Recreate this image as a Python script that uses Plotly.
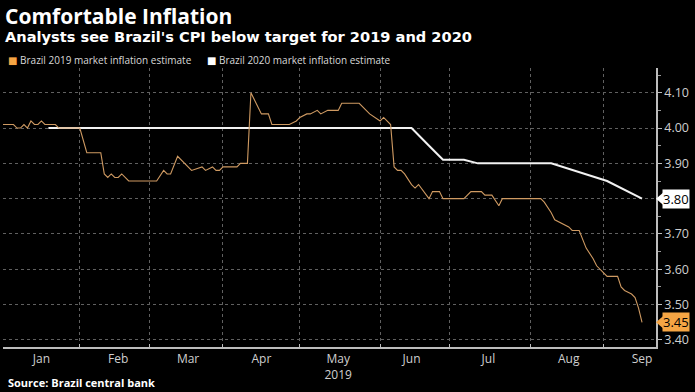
import plotly.graph_objects as go

# ---- data ----
dates_2019 = [
    "2019-01-02", "2019-01-07", "2019-01-08", "2019-01-09", "2019-01-10", "2019-01-11",
    "2019-01-14", "2019-01-15", "2019-01-16", "2019-01-17", "2019-01-18", "2019-01-23",
    "2019-01-24", "2019-02-01", "2019-02-05", "2019-02-11", "2019-02-12", "2019-02-13",
    "2019-02-14", "2019-02-15", "2019-02-18", "2019-02-19", "2019-02-21", "2019-03-05",
    "2019-03-07", "2019-03-08", "2019-03-11", "2019-03-13", "2019-03-19", "2019-03-22",
    "2019-03-25", "2019-03-27", "2019-03-28", "2019-03-29", "2019-04-01", "2019-04-05",
    "2019-04-08", "2019-04-10", "2019-04-11", "2019-04-16", "2019-04-18", "2019-04-19",
    "2019-04-26", "2019-04-30", "2019-05-01", "2019-05-03", "2019-05-06", "2019-05-08",
    "2019-05-09", "2019-05-13", "2019-05-16", "2019-05-17", "2019-05-24", "2019-05-28",
    "2019-05-29", "2019-06-03", "2019-06-04", "2019-06-06", "2019-06-07", "2019-06-10",
    "2019-06-11", "2019-06-12", "2019-06-14", "2019-06-17", "2019-06-18", "2019-06-21",
    "2019-06-24", "2019-06-26", "2019-06-27", "2019-07-05", "2019-07-08", "2019-07-09",
    "2019-07-12", "2019-07-15", "2019-07-17", "2019-07-19", "2019-07-22", "2019-08-06",
    "2019-08-07", "2019-08-09", "2019-08-12", "2019-08-14", "2019-08-16", "2019-08-19",
    "2019-08-21", "2019-08-23", "2019-08-27", "2019-08-28", "2019-08-29", "2019-09-02",
    "2019-09-05", "2019-09-06", "2019-09-09", "2019-09-11", "2019-09-12", "2019-09-13",
    "2019-09-16",
]
values_2019 = [
    4.01, 4.01, 4.00, 4.00, 4.01, 4.00,
    4.02, 4.01, 4.01, 4.02, 4.01, 4.01,
    4.00, 4.00, 3.93, 3.93, 3.87, 3.86,
    3.87, 3.86, 3.86, 3.87, 3.85, 3.85,
    3.88, 3.87, 3.87, 3.92, 3.88, 3.89,
    3.88, 3.89, 3.88, 3.88, 3.89, 3.89,
    3.90, 3.90, 4.10, 4.04, 4.04, 4.01,
    4.01, 4.02, 4.03, 4.04, 4.04, 4.05,
    4.04, 4.05, 4.05, 4.07, 4.07, 4.05,
    4.04, 4.02, 4.03, 4.01, 3.89, 3.88,
    3.88, 3.87, 3.84, 3.83, 3.84, 3.80,
    3.82, 3.82, 3.80, 3.80, 3.81, 3.82,
    3.82, 3.81, 3.81, 3.78, 3.80, 3.80,
    3.79, 3.76, 3.74, 3.73, 3.72, 3.71,
    3.71, 3.66, 3.63, 3.61, 3.60, 3.58,
    3.58, 3.55, 3.54, 3.53, 3.52, 3.49,
    3.45,
]

dates_2020 = ["2019-01-21", "2019-06-14", "2019-06-21", "2019-06-27", "2019-07-05",
              "2019-07-11", "2019-08-09", "2019-09-02", "2019-09-16"]
values_2020 = [4.00, 4.00, 3.95, 3.91, 3.91, 3.90, 3.90, 3.85, 3.80]

series_names = ["Brazil 2019 market inflation estimate",
                "Brazil 2020 market inflation estimate"]
y_ticks = [3.40, 3.50, 3.60, 3.70, 3.80, 3.90, 4.00, 4.10]
month_label_dates = ["2019-01-17", "2019-02-18", "2019-03-18", "2019-04-16", "2019-05-16",
                     "2019-06-14", "2019-07-16", "2019-08-16", "2019-09-16"]
month_labels = ["Jan", "Feb", "Mar", "Apr", "May<br>2019", "Jun", "Jul", "Aug", "Sep"]

title_text = "Comfortable Inflation"
subtitle_text = "Analysts see Brazil's CPI below target for 2019 and 2020"
source_text = "Source: Brazil central bank"

# ---- styling ----
ORANGE = "#cf9a62"
ORANGE_TAG = "#f5a544"
WHITE = "#f2f2f2"
GRID = "#606060"
TICKC = "#cfcfcf"
FONT = "Open Sans, DejaVu Sans, sans-serif"
FONT_WIDE = "DejaVu Sans, sans-serif"

W, H = 695, 392
M_L, M_R, M_T, M_B = 3, 39, 68, 45
PW = W - M_L - M_R
PH = H - M_T - M_B
Y_RANGE = [3.38, 4.17]


def px_x(px):
    return (px - M_L) / PW


def px_y(py):
    return (H - M_B - py) / PH


fig = go.Figure()
fig.add_trace(go.Scatter(x=dates_2020, y=values_2020, mode="lines",
                         line=dict(color=WHITE, width=2), name=series_names[1],
                         showlegend=False, hoverinfo="skip"))
fig.add_trace(go.Scatter(x=dates_2019, y=values_2019, mode="lines",
                         line=dict(color=ORANGE, width=1.1), name=series_names[0],
                         showlegend=False, hoverinfo="skip"))

annotations = [
    dict(text="<b>" + title_text + "</b>", x=px_x(3), y=px_y(16), xref="paper", yref="paper",
         xanchor="left", yanchor="middle", showarrow=False,
         font=dict(family=FONT, size=21, color="white")),
    dict(text="<b>" + subtitle_text + "</b>", x=px_x(3), y=px_y(37), xref="paper", yref="paper",
         xanchor="left", yanchor="middle", showarrow=False,
         font=dict(family=FONT_WIDE, size=14.6, color="white")),
    dict(text='<span style="color:%s">■</span> %s      <span style="color:#ffffff">■</span> %s'
         % (ORANGE_TAG, series_names[0], series_names[1]),
         x=px_x(6), y=px_y(60), xref="paper", yref="paper",
         xanchor="left", yanchor="middle", showarrow=False,
         font=dict(family=FONT, size=10, color="#d8d8d8")),
    dict(text="<b>" + source_text + "</b>", x=px_x(6), y=px_y(383), xref="paper", yref="paper",
         xanchor="left", yanchor="middle", showarrow=False,
         font=dict(family=FONT, size=11, color="white")),
]

shapes = []
# last value tags
for vals, bg in ((values_2020, "white"), (values_2019, ORANGE_TAG)):
    last = vals[-1]
    annotations.append(dict(text="%.2f" % last, x=1, y=last, xref="paper", yref="y",
                            xanchor="left", yanchor="middle", xshift=6, showarrow=False,
                            bgcolor=bg, borderpad=0,
                            font=dict(family=FONT, size=13, color="black")))
    half = 6 * (Y_RANGE[1] - Y_RANGE[0]) / PH
    dx = 7 / PW
    shapes.append(dict(type="path", xref="paper", yref="y",
                       path="M 1 %f L %f %f L %f %f Z" % (last, 1 + dx, last + half, 1 + dx, last - half),
                       fillcolor=bg, line=dict(width=0)))

fig.update_layout(
    width=W, height=H,
    margin=dict(l=M_L, r=M_R, t=M_T, b=M_B),
    paper_bgcolor="black", plot_bgcolor="black",
    showlegend=False,
    annotations=annotations,
    shapes=shapes,
    xaxis=dict(
        type="date",
        range=["2019-01-02", "2019-09-20"],
        rangebreaks=[dict(bounds=["sat", "mon"])],
        tickvals=month_label_dates, ticktext=month_labels,
        showgrid=False, ticks="",
        minor=dict(tick0="2019-01-01", dtick="M1", showgrid=True, gridcolor=GRID,
                   griddash="dot", gridwidth=1, ticks="inside", ticklen=3, tickcolor="#bdbdbd"),
        showline=True, linecolor="#bdbdbd", linewidth=1.5,
        tickfont=dict(family=FONT, size=12, color=TICKC),
        zeroline=False, fixedrange=True,
    ),
    yaxis=dict(
        side="right",
        range=Y_RANGE,
        tickvals=y_ticks, tickformat=".2f",
        showgrid=True, gridcolor=GRID, griddash="dot", gridwidth=1,
        showline=True, linecolor="#bdbdbd", linewidth=1.5,
        ticks="outside", ticklen=4, tickcolor="#bdbdbd",
        minor=dict(dtick=0.05, tick0=3.35, ticks="outside", ticklen=3, tickcolor="#9a9a9a", showgrid=False),
        tickfont=dict(family=FONT, size=12.5, color=TICKC),
        zeroline=False, fixedrange=True,
    ),
)

fig.write_html("out.html", config={"displayModeBar": False},
               post_script="document.body.style.margin='0';document.body.style.padding='0';")
